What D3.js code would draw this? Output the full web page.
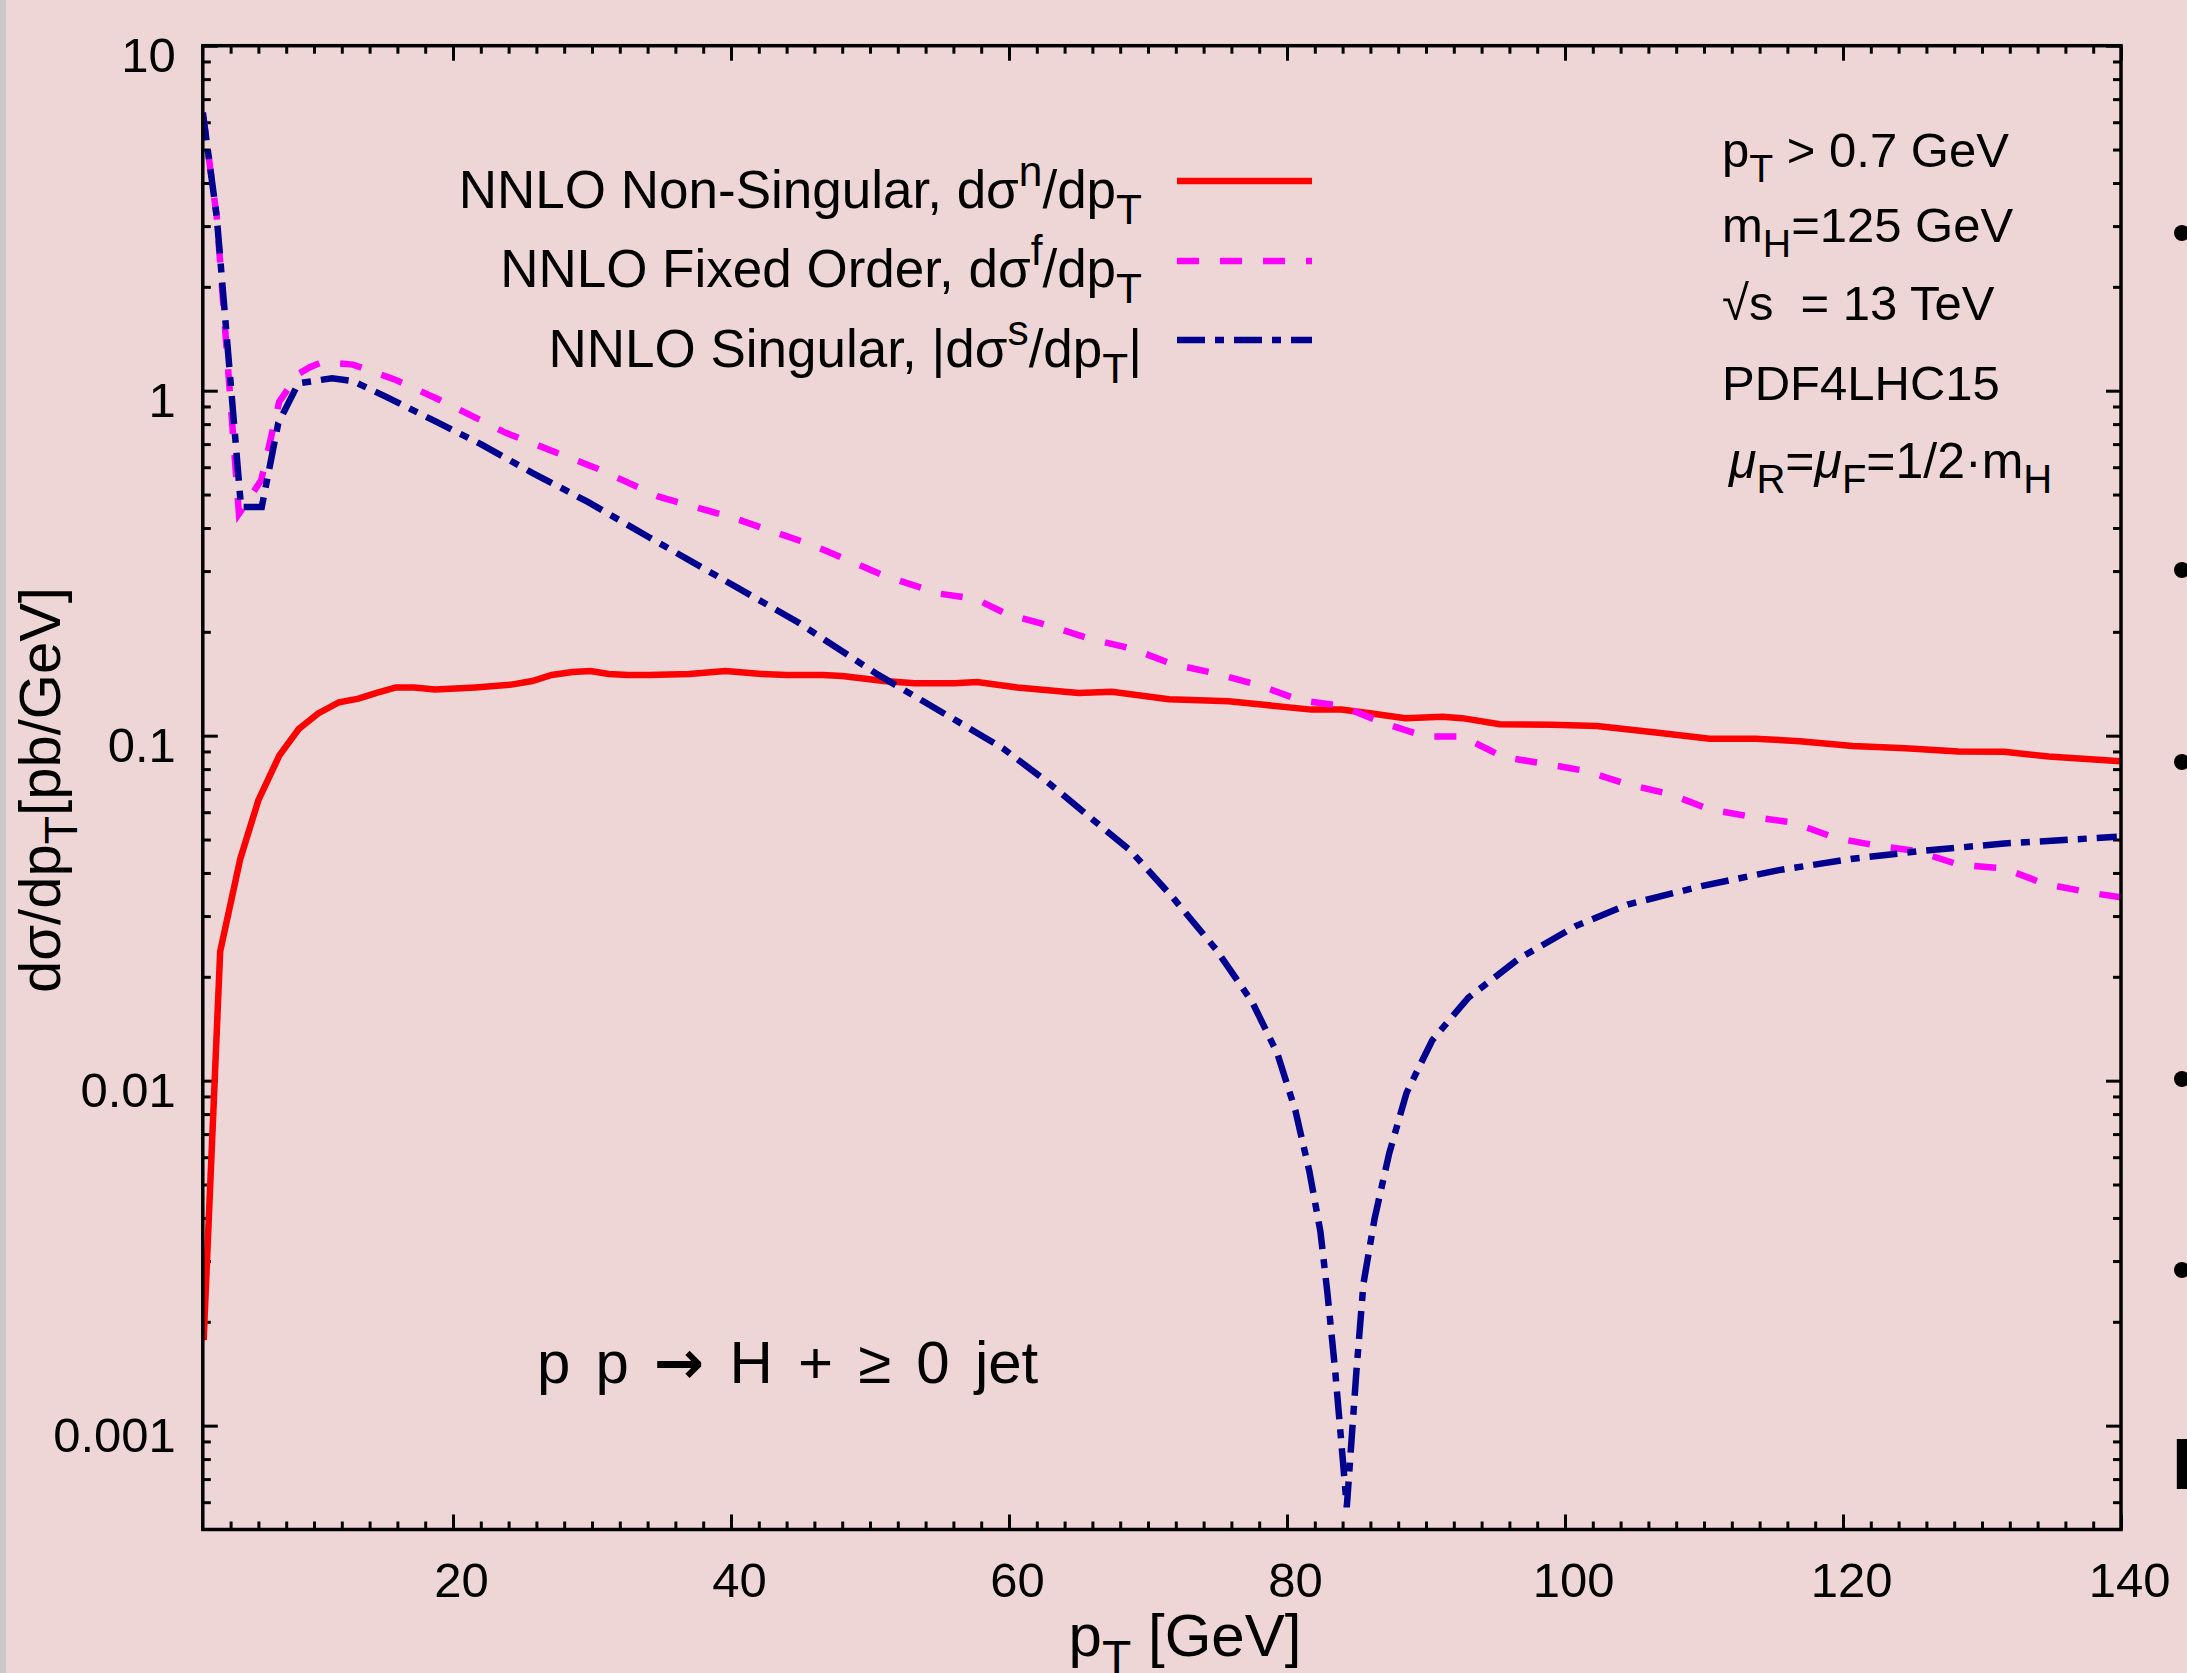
<!DOCTYPE html>
<html>
<head>
<meta charset="utf-8">
<script src="https://cdn.jsdelivr.net/npm/d3@7"></script>
<style>
  html, body { margin: 0; padding: 0; background: #efd6d6; }
  svg { display: block; font-family: "Liberation Sans", Arial, Helvetica, sans-serif; }
  text { white-space: pre; }
</style>
</head>
<body>
<svg id="chart" width="2187" height="1673"></svg>
<script>
// NNLO non-singular (red, solid)
const nsX = [2.06, 3.25, 4.7, 6, 7.5, 8.9, 10.3, 11.8, 13.2, 14.5, 15.9, 17.2, 18.7, 20.2, 21.6, 24.2, 25.7, 27.1, 28.6, 29.9,
  31.2, 32.6, 34.1, 37, 39.6, 42.2, 44, 46.6, 48, 51, 53.2, 56.1, 57.7, 60.6, 65, 67.4, 71.5, 75.8, 78.5, 81.75,
  83.9, 86.1, 88.5, 91.2, 92.6, 95.3, 99.1, 102.3, 106.7, 110.4, 113.7, 116.9, 120.7, 124.5, 128.3, 131.6, 134.8, 140];
const nsY = [0.00177, 0.0237, 0.044, 0.065, 0.0875, 0.1045, 0.116, 0.125, 0.128, 0.133, 0.138, 0.138, 0.136, 0.137, 0.138, 0.1406, 0.144, 0.15, 0.153, 0.154,
  0.151, 0.15, 0.15, 0.151, 0.154, 0.151, 0.15, 0.15, 0.149, 0.144, 0.142, 0.142, 0.143, 0.138, 0.133, 0.134, 0.1276, 0.1258, 0.1227, 0.119,
  0.119, 0.116, 0.1124, 0.1134, 0.1124, 0.108, 0.1075, 0.1066, 0.102, 0.098, 0.098, 0.0964, 0.0933, 0.092, 0.090, 0.0898, 0.087, 0.0843];

// NNLO fixed order (magenta, dashed)
const foX = [2, 3, 4.6, 6.2, 7.5, 8.9, 9.7, 10.6, 12.8, 15.75, 19.05, 23.8, 30.4, 34.8, 40, 45.85, 51, 55, 57.6, 59.8,
  62.8, 65.8, 68.8, 71.7, 74.7, 78, 80.9, 83.9, 86.9, 89.9, 92.6, 95.6, 98.5, 101.5, 104.5, 107.5, 110.4, 113.4, 116.4, 119.4,
  122.4, 125.3, 128.3, 131.6, 134.5, 138.1, 140];
const foY = [6.4, 3.2, 0.44, 0.55, 0.93, 1.12, 1.17, 1.21, 1.19, 1.08, 0.94, 0.755, 0.594, 0.493, 0.43, 0.357, 0.291, 0.258, 0.249, 0.2255,
  0.209, 0.191, 0.179, 0.1615, 0.152, 0.14, 0.1268, 0.122, 0.109, 0.0995, 0.0995, 0.0866, 0.083, 0.079, 0.0723, 0.0678, 0.0612, 0.0582, 0.056, 0.0506,
  0.048, 0.0463, 0.0423, 0.0412, 0.0372, 0.0349, 0.034];

// NNLO singular |value| (navy, dash-dot)
const sgX = [2, 3, 4.75, 6.24, 7.43, 8.87, 11.3, 12.8, 15.2, 18.6, 22, 25.7, 29.7, 34.1, 39.6, 44.75, 50.6, 56.3, 59.55, 62.8,
  66.1, 68.7, 71.8, 74.9, 77.5, 79.3, 80.6, 81.6, 82.4, 82.9, 83.46, 84, 84.3, 85, 85.5, 86.3, 87.35, 88.6, 90.45, 93.05,
  96.7, 100.8, 104.5, 109.9, 115.3, 120.7, 125.6, 131.6, 139.7];
const sgY = [6.4, 3.2, 0.46, 0.46, 0.805, 1.05, 1.087, 1.066, 0.96, 0.82, 0.70, 0.578, 0.476, 0.376, 0.281, 0.214, 0.15, 0.11, 0.092, 0.0732,
  0.0568, 0.0466, 0.0339, 0.024, 0.0169, 0.012, 0.0082, 0.00548, 0.00366, 0.00244, 0.00145, 0.00081, 0.00058, 0.00145, 0.00258, 0.00398, 0.00615, 0.00922, 0.0131, 0.0174,
  0.0226, 0.0281, 0.0324, 0.0367, 0.0407, 0.044, 0.0463, 0.0487, 0.0509];

const xMajor = [20, 40, 60, 80, 100, 120, 140];
const yMajor = [0.001, 0.01, 0.1, 1, 10];
const yLabels = ["0.001", "0.01", "0.1", "1", "10"];

(function() {
const svg = d3.select("#chart");
const pL = 202.8, pR = 2121, pT = 45.7, pB = 1529.5;

const x = d3.scaleLinear().domain([2, 140]).range([pL, pR]);
const y = d3.scaleLog().domain([0.0005, 10]).range([pB, pT]);

// page background + paper edge
svg.append("rect").attr("width", 2187).attr("height", 1673).attr("fill", "#efd6d6");
svg.append("rect").attr("x", 0).attr("y", 0).attr("width", 6).attr("height", 1673).attr("fill", "#c9c9c9");

const xMinor = d3.range(4, 140, 2).filter(v => v % 20 !== 0);
const yMinor = [];
[-4, -3, -2, -1, 0].forEach(e => {
	for (let k = 2; k <= 9; k++) {
		const v = +(k * Math.pow(10, e)).toPrecision(3);
		if (v > 0.0005 && v < 10) yMinor.push(v);
	}
});

function tickAxis(axis) {
	return function(g) {
		g.call(axis);
		g.select(".domain").remove();
		g.selectAll(".tick line").attr("stroke", "#000").attr("stroke-width", 3);
		g.selectAll("text").attr("fill", "#000").attr("font-size", 49)
		  .attr("font-family", "'Liberation Sans', Arial, sans-serif");
	};
}

// bottom
svg.append("g").attr("transform", `translate(0,${pB})`)
  .call(tickAxis(d3.axisBottom(x).tickValues(xMajor).tickSize(-15).tickPadding(33).tickFormat(d3.format("d"))))
  .selectAll("text").attr("dx", 8);
svg.append("g").attr("transform", `translate(0,${pB})`)
  .call(tickAxis(d3.axisBottom(x).tickValues(xMinor).tickSize(-8).tickFormat("")));
// top
svg.append("g").attr("transform", `translate(0,${pT})`)
  .call(tickAxis(d3.axisTop(x).tickValues(xMajor).tickSize(-15).tickFormat("")));
svg.append("g").attr("transform", `translate(0,${pT})`)
  .call(tickAxis(d3.axisTop(x).tickValues(xMinor).tickSize(-8).tickFormat("")));
// left
svg.append("g").attr("transform", `translate(${pL},0)`)
  .call(tickAxis(d3.axisLeft(y).tickValues(yMajor).tickSize(-15).tickPadding(27).tickFormat((d, i) => yLabels[i])))
  .selectAll("text").attr("dy", "0.53em");
svg.append("g").attr("transform", `translate(${pL},0)`)
  .call(tickAxis(d3.axisLeft(y).tickValues(yMinor).tickSize(-8).tickFormat("")));
// right
svg.append("g").attr("transform", `translate(${pR},0)`)
  .call(tickAxis(d3.axisRight(y).tickValues(yMajor).tickSize(-15).tickFormat("")));
svg.append("g").attr("transform", `translate(${pR},0)`)
  .call(tickAxis(d3.axisRight(y).tickValues(yMinor).tickSize(-8).tickFormat("")));

svg.append("clipPath").attr("id", "plotclip")
  .append("rect").attr("x", pL).attr("y", pT).attr("width", pR - pL).attr("height", pB - pT);

const line = d3.line().x(d => x(d[0])).y(d => y(d[1]));
const series = [
	{xs: nsX, ys: nsY, color: "#ff0000", dash: null},
	{xs: foX, ys: foY, color: "#ff00ff", dash: "22,21"},
	{xs: sgX, ys: sgY, color: "#00008f", dash: "28,10,9,10"}
];
const curves = svg.append("g").attr("clip-path", "url(#plotclip)");
series.forEach(s => {
	curves.append("path")
	  .datum(s.xs.map((v, i) => [v, s.ys[i]]))
	  .attr("d", line)
	  .attr("fill", "none")
	  .attr("stroke", s.color)
	  .attr("stroke-width", 6.5)
	  .attr("stroke-linejoin", "miter")
	  .attr("stroke-dasharray", s.dash);
});

// frame
svg.append("rect").attr("x", pL).attr("y", pT).attr("width", pR - pL).attr("height", pB - pT)
  .attr("fill", "none").attr("stroke", "#000").attr("stroke-width", 3.5);

// rich text helper: parts are [text, "sup"|"sub"|"it"|"arrow"|undefined]
function rich(g, px, py, size, parts, anchor) {
	const t = g.append("text").attr("x", px).attr("y", py).attr("font-size", size)
	  .attr("fill", "#000").attr("text-anchor", anchor || "start");
	let shift = 0;
	parts.forEach(p => {
		let target = 0, fs = size;
		if (p[1] === "sup") { target = -0.42 * size; fs = 0.8 * size; }
		if (p[1] === "sub") { target = 0.3 * size; fs = 0.8 * size; }
		const ts = t.append("tspan").attr("font-size", fs).attr("dy", target - shift).text(p[0]);
		if (p[1] === "it") ts.attr("font-style", "italic");
		if (p[1] === "arrow") ts.attr("font-family", "'DejaVu Sans', sans-serif").attr("font-weight", "bold");
		shift = target;
	});
	return t;
}

// legend
const legend = [
	{parts: [["NNLO Non-Singular, dσ"], ["n", "sup"], ["/dp"], ["T", "sub"]], color: "#ff0000", dash: null, ty: 208, ly: 181},
	{parts: [["NNLO Fixed Order, dσ"], ["f", "sup"], ["/dp"], ["T", "sub"]], color: "#ff00ff", dash: "22,21", ty: 287, ly: 261},
	{parts: [["NNLO Singular, |dσ"], ["s", "sup"], ["/dp"], ["T", "sub"], ["|"]], color: "#00008f", dash: "28,10,9,10", ty: 367, ly: 340}
];
const lg = svg.append("g");
legend.forEach(l => {
	rich(lg, 1142, l.ty, 53, l.parts, "end");
	lg.append("line").attr("x1", 1177).attr("x2", 1312).attr("y1", l.ly).attr("y2", l.ly)
	  .attr("stroke", l.color).attr("stroke-width", 6.5).attr("stroke-dasharray", l.dash);
});

// run parameters
const info = svg.append("g");
rich(info, 1722, 167, 49, [["p"], ["T", "sub"], [" > 0.7 GeV"]]);
rich(info, 1722, 242, 49, [["m"], ["H", "sub"], ["=125 GeV"]]);
rich(info, 1722, 320, 49, [["√s  = 13 TeV"]]);
rich(info, 1722, 400, 49, [["PDF4LHC15"]]);
rich(info, 1729, 478, 50, [["μ", "it"], ["R", "sub"], ["="], ["μ", "it"], ["F", "sub"], ["=1/2·m"], ["H", "sub"]]);

// process label
rich(svg, 537, 1383, 60, [["p p "], ["→", "arrow"], [" H + ≥ 0 jet"]]).attr("word-spacing", 8.5);

// axis titles
rich(svg, 1185, 1656, 60, [["p"], ["T", "sub"], [" [GeV]"]], "middle");
const yt = svg.append("g").attr("transform", "translate(60,790) rotate(-90)");
rich(yt, 0, 0, 58, [["dσ/dp"], ["T", "sub"], ["[pb/GeV]"]], "middle");

// edge of the overlapping slide
const bullets = [233, 570, 762, 1079, 1270];
svg.selectAll(".bullet").data(bullets).join("circle")
  .attr("cx", 2182).attr("cy", d => d).attr("r", 8).attr("fill", "#000");
svg.append("text").attr("x", 2172).attr("y", 1489).attr("font-size", 72).attr("font-weight", "bold")
  .attr("fill", "#000").text("L");
})();
</script>
</body>
</html>
